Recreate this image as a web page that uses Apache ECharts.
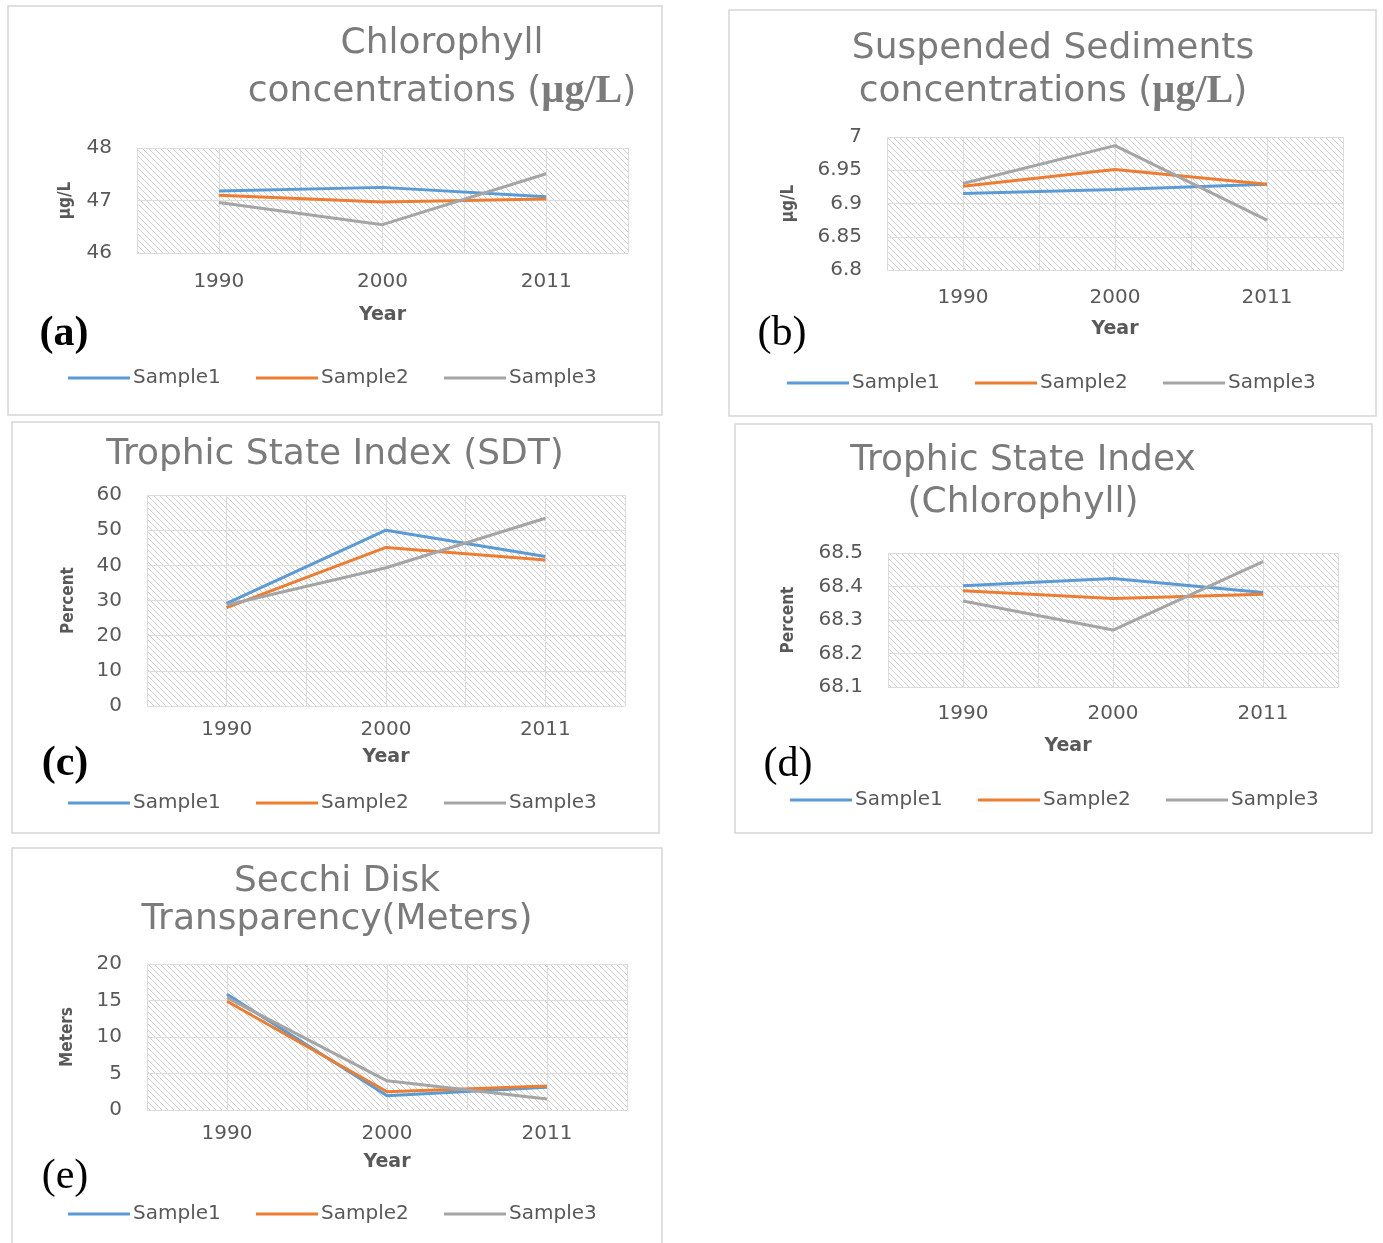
<!DOCTYPE html>
<html>
<head>
<meta charset="utf-8">
<script src="https://cdn.jsdelivr.net/npm/echarts@6/dist/echarts.min.js"></script>
<style>
  html, body { margin: 0; padding: 0; background: #fff; }
  #chart { width: 1383px; height: 1243px; }
</style>
</head>
<body>
<div id="chart"></div>
<script>
// categories and series names
const years = ['1990', '2000', '2011'];
const sampleNames = ['Sample1', 'Sample2', 'Sample3'];
const sampleColors = ['#5b9bd5', '#ed7d31', '#a5a5a5'];

// (a) chlorophyll concentrations, ug/L
const chlS1 = [47.18, 47.25, 47.07];
const chlS2 = [47.10, 46.97, 47.03];
const chlS3 = [46.96, 46.54, 47.51];
// (b) suspended sediments, ug/L
const sedS1 = [6.915, 6.921, 6.929];
const sedS2 = [6.926, 6.951, 6.929];
const sedS3 = [6.930, 6.987, 6.875];
// (c) trophic state index (SDT), percent
const tsiSdtS1 = [29.2, 50.0, 42.5];
const tsiSdtS2 = [28.0, 45.1, 41.5];
const tsiSdtS3 = [28.7, 39.3, 53.4];
// (d) trophic state index (chlorophyll), percent
const tsiChlS1 = [68.402, 68.424, 68.382];
const tsiChlS2 = [68.387, 68.364, 68.377];
const tsiChlS3 = [68.357, 68.270, 68.474];
// (e) secchi disk transparency, meters
const sdS1 = [15.85, 1.96, 3.1];
const sdS2 = [14.9, 2.5, 3.3];
const sdS3 = [15.4, 4.0, 1.5];

const sans = 'DejaVu Sans';
const serif = 'Liberation Serif';
const narrow = '"Liberation Sans Narrow", "DejaVu Sans Condensed", "Liberation Sans", sans-serif';

const panels = [
  { tag: '(a)', tagBold: true, box: [8, 6, 654, 409],
    title: 'Chlorophyll\nconcentrations ({u|µg/L})', titleX: 442, titleTop: 20, titleLH: 48,
    grid: { left: 137, top: 148, width: 491, height: 105 },
    yMin: 46, yMax: 48, yStep: 1, yName: 'µg/L', yGap: 63, xGap: 53, xMargin: 19, yearShift: 0,
    tagX: 64, tagY: 334, legendX: 68, legendY: 378,
    data: [chlS1, chlS2, chlS3] },
  { tag: '(b)', tagBold: false, box: [729, 10, 647, 406],
    title: 'Suspended Sediments\nconcentrations ({u|µg/L})', titleX: 1053, titleTop: 27, titleLH: 43,
    grid: { left: 887, top: 137, width: 456, height: 133 },
    yMin: 6.8, yMax: 7, yStep: 0.05, yName: 'µg/L', yGap: 90, xGap: 50, xMargin: 18, yearShift: 0,
    tagX: 782, tagY: 334, legendX: 787, legendY: 383,
    data: [sedS1, sedS2, sedS3] },
  { tag: '(c)', tagBold: true, box: [12, 422, 647, 411],
    title: 'Trophic State Index (SDT)', titleX: 335, titleTop: 434, titleLH: 42,
    grid: { left: 147, top: 495, width: 478, height: 211 },
    yMin: 0, yMax: 60, yStep: 10, yName: 'Percent', yGap: 70, xGap: 42, xMargin: 14, yearShift: 0,
    tagX: 65, tagY: 764, legendX: 68, legendY: 803,
    data: [tsiSdtS1, tsiSdtS2, tsiSdtS3] },
  { tag: '(d)', tagBold: false, box: [735, 424, 637, 409],
    title: 'Trophic State Index\n(Chlorophyll)', titleX: 1023, titleTop: 440, titleLH: 42,
    grid: { left: 888, top: 553, width: 450, height: 134 },
    yMin: 68.1, yMax: 68.5, yStep: 0.1, yName: 'Percent', yGap: 91, xGap: 50, xMargin: 17, yearShift: 90,
    tagX: 788, tagY: 765, legendX: 790, legendY: 800,
    data: [tsiChlS1, tsiChlS2, tsiChlS3] },
  { tag: '(e)', tagBold: false, box: [12, 848, 650, 420],
    title: 'Secchi Disk\nTransparency(Meters)', titleX: 337, titleTop: 863, titleLH: 38,
    grid: { left: 147, top: 964, width: 480, height: 146 },
    yMin: 0, yMax: 20, yStep: 5, yName: 'Meters', yGap: 71, xGap: 43, xMargin: 14, yearShift: 0,
    tagX: 65, tagY: 1177, legendX: 68, legendY: 1214,
    data: [sdS1, sdS2, sdS3] }
];

// diagonal hatch used as the plot-area fill
function makeHatch() {
  const c = document.createElement('canvas');
  c.width = 6; c.height = 6;
  const g = c.getContext('2d');
  g.fillStyle = '#ffffff';
  g.fillRect(0, 0, 6, 6);
  g.strokeStyle = '#d0d0d0';
  g.lineWidth = 1;
  g.beginPath();
  g.moveTo(-1, -1); g.lineTo(7, 7);
  g.moveTo(-1, 5); g.lineTo(1, 7);
  g.moveTo(5, -1); g.lineTo(7, 1);
  g.stroke();
  return c;
}
const hatch = makeHatch();

const chart = echarts.init(document.getElementById('chart'));

const option = {
  animation: false,
  backgroundColor: '#fff',
  title: [], grid: [], xAxis: [], yAxis: [], legend: [], series: [],
  graphic: []
};

panels.forEach((p, i) => {
  option.graphic.push({
    type: 'rect', silent: true,
    shape: { x: p.box[0], y: p.box[1], width: p.box[2], height: p.box[3] },
    style: { fill: 'none', stroke: '#d6d6d6', lineWidth: 1.5 }
  });
  option.graphic.push({
    type: 'text', silent: true, x: p.tagX, y: p.tagY,
    style: {
      text: p.tag, fill: '#000', align: 'center', verticalAlign: 'middle',
      font: (p.tagBold ? 'bold ' : '') + '42px "' + serif + '"'
    }
  });

  option.title.push({
    text: p.title, left: p.titleX, top: p.titleTop, textAlign: 'center', padding: 0,
    textStyle: {
      fontFamily: sans, fontSize: 36, fontWeight: 'normal', color: '#7b7b7b', lineHeight: p.titleLH,
      rich: { u: { fontFamily: serif, fontWeight: 'bold', fontSize: 40, color: '#7b7b7b', lineHeight: p.titleLH } }
    }
  });

  option.grid.push(Object.assign({
    show: true, borderWidth: 0,
    backgroundColor: { image: hatch, repeat: 'repeat' }
  }, p.grid));

  option.xAxis.push({
    type: 'value', gridIndex: i, min: 0.5, max: 3.5, interval: 0.5,
    name: 'Year', nameLocation: 'middle', nameGap: p.xGap,
    nameTextStyle: { fontFamily: sans, fontSize: 19, fontWeight: 'bold', color: '#595959',
      padding: [0, p.yearShift, 0, 0] },
    axisLine: { show: false }, axisTick: { show: false },
    axisLabel: {
      margin: p.xMargin, fontFamily: sans, fontSize: 20, color: '#595959',
      formatter: v => (Number.isInteger(v) ? years[v - 1] : '')
    },
    splitLine: { show: true, lineStyle: { color: '#dcdcdc', width: 1 } }
  });

  option.yAxis.push({
    type: 'value', gridIndex: i, min: p.yMin, max: p.yMax, interval: p.yStep,
    name: p.yName, nameLocation: 'middle', nameGap: p.yGap, nameRotate: 90,
    nameTextStyle: { fontFamily: narrow, fontSize: 17, fontWeight: 'bold', color: '#595959' },
    axisLine: { show: false }, axisTick: { show: false },
    axisLabel: { margin: 25, fontFamily: sans, fontSize: 20, color: '#595959' },
    splitLine: { show: true, lineStyle: { color: '#dcdcdc', width: 1 } }
  });

  option.legend.push({
    data: sampleNames, left: p.legendX, top: p.legendY - 12, padding: 0,
    icon: 'rect', itemWidth: 62, itemHeight: 3, itemGap: 31, selectedMode: false,
    textStyle: { fontFamily: sans, fontSize: 20, color: '#595959', width: 92, lineHeight: 24, padding: [0, 0, 0, -2] }
  });

  p.data.forEach((vals, k) => {
    option.series.push({
      name: sampleNames[k], type: 'line', xAxisIndex: i, yAxisIndex: i,
      symbol: 'none', color: sampleColors[k],
      lineStyle: { width: 3, color: sampleColors[k] },
      data: vals.map((v, j) => [j + 1, v])
    });
  });
});

chart.setOption(option);
</script>
</body>
</html>
